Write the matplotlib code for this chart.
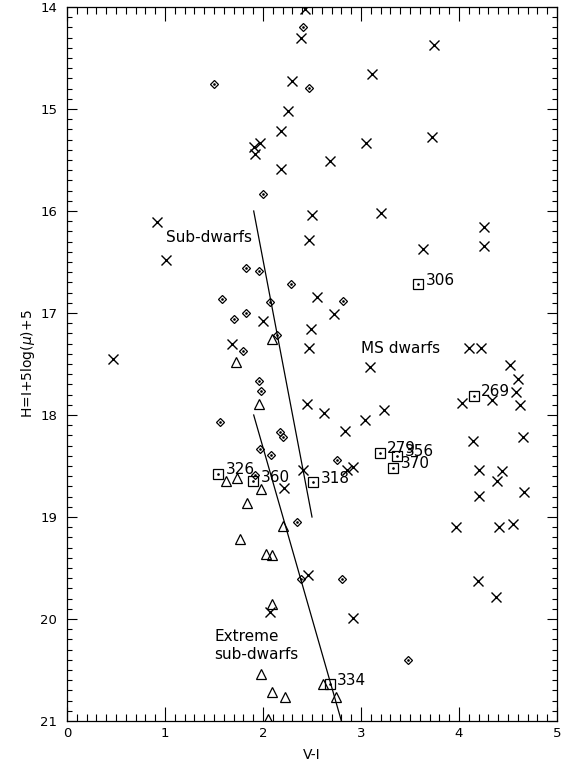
"""Reduced proper motion diagram: H = I + 5 log(mu) + 5 against V-I."""
import matplotlib
matplotlib.use("Agg")
import matplotlib.pyplot as plt
from matplotlib.ticker import MultipleLocator

# main-sequence dwarfs (crosses)
ms_vi = [2.43, 2.39, 3.74, 2.30, 3.11, 2.26, 2.18, 3.72, 1.97, 1.91, 1.92, 3.05,
         2.68, 2.18, 0.92, 2.50, 3.20, 4.26, 2.47, 4.25, 3.63, 1.01, 2.55, 2.72,
         2.00, 2.49, 1.68, 2.47, 0.47, 4.10, 4.22, 3.09, 4.52, 4.60, 4.58, 4.34,
         4.03, 4.62, 2.45, 2.62, 3.23, 3.04, 2.84, 4.14, 4.65, 2.92, 2.86, 4.20,
         4.44, 4.39, 2.41, 4.66, 4.20, 2.21, 3.97, 4.41, 4.55, 2.46, 4.19, 4.38,
         2.92, 2.07]
ms_h = [14.02, 14.30, 14.37, 14.73, 14.66, 15.02, 15.22, 15.27, 15.33, 15.37, 15.44, 15.33,
        15.51, 15.59, 16.11, 16.04, 16.02, 16.16, 16.28, 16.34, 16.37, 16.48, 16.84, 17.01,
        17.08, 17.16, 17.30, 17.34, 17.45, 17.34, 17.34, 17.53, 17.51, 17.65, 17.77, 17.85,
        17.88, 17.90, 17.89, 17.98, 17.95, 18.05, 18.16, 18.25, 18.22, 18.51, 18.54, 18.54,
        18.55, 18.65, 18.54, 18.75, 18.79, 18.72, 19.10, 19.10, 19.07, 19.57, 19.63, 19.78,
        19.99, 19.93]

# sub-dwarfs (diamonds)
sd_vi = [2.41, 1.50, 2.47, 2.00, 1.83, 1.96, 2.29, 1.58, 2.07, 2.82, 1.83, 1.70,
         2.14, 1.80, 1.96, 1.98, 1.56, 2.17, 2.20, 1.97, 2.08, 2.76, 1.92, 2.35,
         2.39, 2.81, 3.48]
sd_h = [14.20, 14.75, 14.79, 15.83, 16.56, 16.59, 16.72, 16.86, 16.89, 16.88, 17.00, 17.06,
        17.22, 17.37, 17.67, 17.76, 18.07, 18.17, 18.22, 18.33, 18.39, 18.44, 18.59, 19.05,
        19.61, 19.61, 20.40]

# extreme sub-dwarfs (triangles)
esd_vi = [2.09, 1.72, 1.96, 1.62, 1.73, 1.98, 1.84, 2.20, 1.77, 2.03, 2.09, 2.09,
          1.98, 2.09, 2.22, 2.05, 2.61, 2.74]
esd_h = [17.25, 17.48, 17.89, 18.65, 18.62, 18.73, 18.86, 19.09, 19.22, 19.36, 19.37, 19.85,
         20.54, 20.72, 20.76, 20.98, 20.64, 20.76]

# numbered objects (squares)
sq_id = ["326", "360", "318", "279", "356", "370", "306", "269", "334"]
sq_vi = [1.54, 1.90, 2.51, 3.19, 3.37, 3.33, 3.58, 4.15, 2.68]
sq_h = [18.58, 18.65, 18.66, 18.37, 18.40, 18.52, 16.72, 17.81, 20.64]

# dividing lines
sd_line_vi = [1.905, 2.50]
sd_line_h = [16.0, 19.0]
esd_line_vi = [1.905, 2.80]
esd_line_h = [18.0, 21.0]

plt.rcParams["font.family"] = "DejaVu Sans"
fig = plt.figure(figsize=(5.74, 7.67), dpi=100)
ax = fig.add_axes([67 / 574, 1 - 721 / 767, 490 / 574, 714 / 767])

ax.plot(sd_line_vi, sd_line_h, color="black", lw=0.9)
ax.plot(esd_line_vi, esd_line_h, color="black", lw=0.9)

ax.plot(ms_vi, ms_h, ls="none", marker="x", ms=7.5, mew=1.0, color="black")
ax.plot(sd_vi, sd_h, ls="none", marker="D", ms=4.3, mew=0.9, mfc="none", mec="black")
ax.plot(sd_vi, sd_h, ls="none", marker="o", ms=0.9, color="black")
ax.plot(esd_vi, esd_h, ls="none", marker="^", ms=6.8, mew=0.9, mfc="none", mec="black")
ax.plot(sq_vi, sq_h, ls="none", marker="s", ms=6.8, mew=0.9, mfc="none", mec="black")
ax.plot(sq_vi, sq_h, ls="none", marker="o", ms=0.9, color="black")
for name, x, y in zip(sq_id, sq_vi, sq_h):
    ax.annotate(name, (x, y), textcoords="offset points", xytext=(5.5, 3),
                ha="left", va="center", fontsize=11)

ax.text(1.01, 16.26, "Sub-dwarfs", ha="left", va="center", fontsize=11)
ax.text(3.0, 17.35, "MS dwarfs", ha="left", va="center", fontsize=11)
ax.text(1.50, 20.26, "Extreme\nsub-dwarfs", ha="left", va="center", fontsize=11,
        linespacing=1.3)

ax.set_xlim(0, 5)
ax.set_ylim(21, 14)
ax.xaxis.set_major_locator(MultipleLocator(1))
ax.xaxis.set_minor_locator(MultipleLocator(0.1))
ax.yaxis.set_major_locator(MultipleLocator(1))
ax.yaxis.set_minor_locator(MultipleLocator(0.1))
ax.tick_params(axis="x", which="both", direction="in", top=True, bottom=True,
               width=0.8, labelsize=9.5, pad=4)
ax.tick_params(axis="x", which="major", length=10)
ax.tick_params(axis="x", which="minor", length=5)
ax.tick_params(axis="y", which="both", direction="in", left=True, right=True,
               width=0.8, labelsize=9.5, pad=7)
ax.tick_params(axis="y", which="major", length=7.2)
ax.tick_params(axis="y", which="minor", length=3.6)
for s in ax.spines.values():
    s.set_linewidth(0.9)

ax.set_xlabel("V-I", fontsize=10)
ax.set_ylabel(r"H=I+5log($\mu$)+5", fontsize=10)
ax.xaxis.set_label_coords(0.5, -0.038)
ax.yaxis.set_label_coords(-0.062, 0.5)

fig.savefig("out.png", dpi=100)
